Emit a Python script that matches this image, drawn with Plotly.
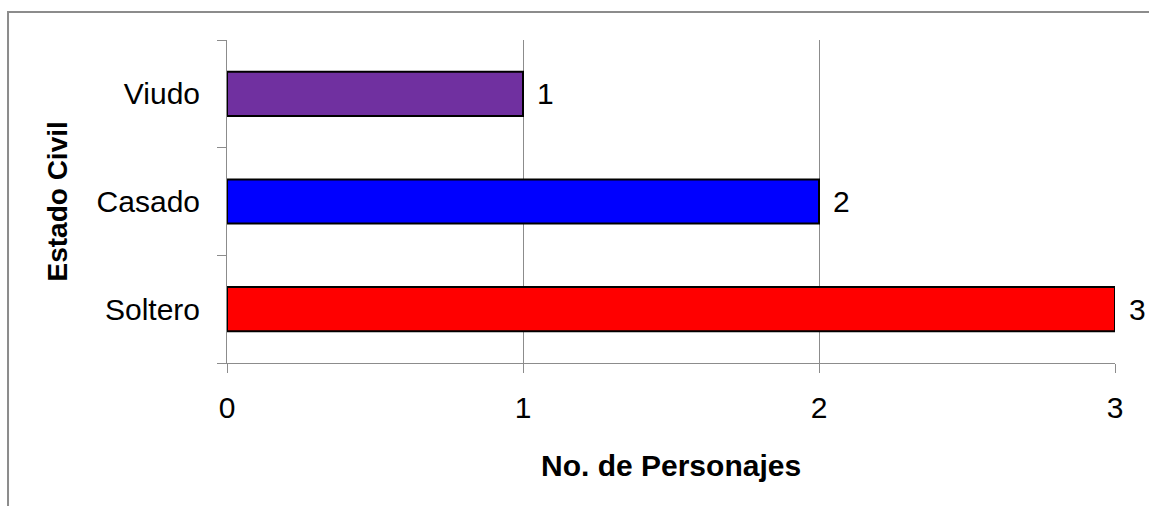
import plotly.graph_objects as go

categories = ["Soltero", "Casado", "Viudo"]
values = [3, 2, 1]
colors = ["#FF0000", "#0000FF", "#7030A0"]
x_ticks = [0, 1, 2, 3]

FONT = "Liberation Sans, Arial, sans-serif"
FS = 30

fig = go.Figure(go.Bar(
    y=categories, x=values, orientation="h",
    marker=dict(color=colors, line=dict(color="#000000", width=2)),
    width=0.41, hoverinfo="x+y",
))

annotations = [
    dict(x=v, y=c, xref="x", yref="y", text=str(v), xanchor="left", yanchor="middle",
         xshift=12, showarrow=False, font=dict(size=FS, family=FONT, color="#000000"))
    for c, v in zip(categories, values)
]
annotations += [
    dict(text="<b>No. de Personajes</b>", xref="paper", yref="paper", x=0.5, y=0,
         xanchor="center", yanchor="middle", yshift=-102, showarrow=False,
         font=dict(size=FS, family=FONT, color="#000000")),
    dict(text="<b>Estado Civil</b>", xref="paper", yref="paper", x=0, y=0.5,
         xanchor="center", yanchor="middle", xshift=-170, textangle=-90, showarrow=False,
         font=dict(size=28, family=FONT, color="#000000")),
]

fig.update_layout(
    width=1149, height=506,
    margin=dict(l=227, r=34, t=40, b=143),
    plot_bgcolor="white", paper_bgcolor="white",
    font=dict(family=FONT, size=FS, color="#000000"),
    showlegend=False,
    xaxis=dict(
        range=[0, 3], tickvals=x_ticks, showgrid=True, gridcolor="#8c8c8c", gridwidth=1,
        showline=True, linecolor="#8c8c8c", linewidth=1,
        ticks="outside", ticklen=9, tickcolor="#8c8c8c",
        tickfont=dict(size=FS, family=FONT, color="#000000"), ticklabelstandoff=9,
        zeroline=False, automargin=False,
    ),
    yaxis=dict(
        categoryorder="array", categoryarray=categories,
        showline=True, linecolor="#8c8c8c", linewidth=1,
        ticks="outside", ticklen=9, tickcolor="#8c8c8c", tickson="boundaries",
        tickfont=dict(size=FS, family=FONT, color="#000000"), ticklabelstandoff=20,
        showgrid=False, automargin=False,
    ),
    annotations=annotations,
    shapes=[dict(type="rect", xref="paper", yref="paper", x0=-0.2466, x1=1.2, y0=-0.6, y1=1.0867,
                 line=dict(color="#8c8c8c", width=2), layer="below")],
)

fig.write_html(
    "out.html",
    config={"displayModeBar": False},
    post_script="document.body.style.margin='0';document.body.style.overflow='hidden';",
)
